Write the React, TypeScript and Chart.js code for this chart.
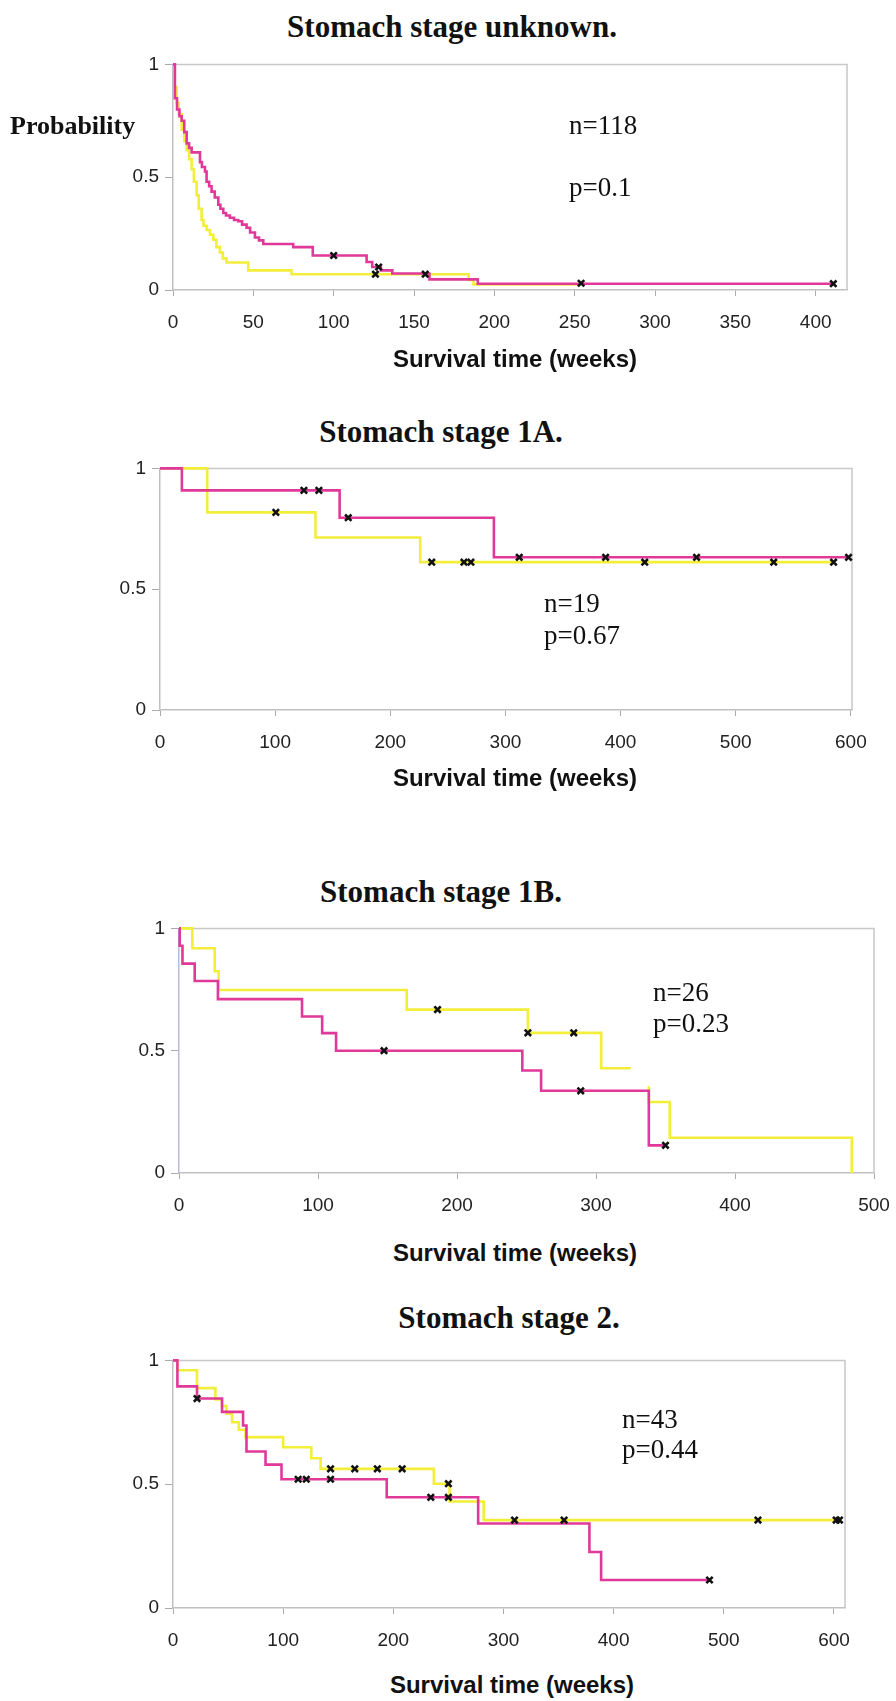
import React, { useEffect, useRef } from 'react';
import { Chart, registerables } from 'chart.js';

Chart.register(...registerables);

const PINK = '#E0399A';
const YELLOW = '#F2EE3A';

// ---------- Panel 1: Stomach stage unknown ----------
const p1PinkT = [0, 1.2, 2.5, 4, 5.4, 7, 8.5, 10, 11.6, 16.8, 18, 19.9, 20.9, 22.5, 24, 26, 28.2, 29.5, 31.3, 33, 35.4, 38, 40.6, 43, 45.8, 48, 51, 53.5, 56.2, 74.8, 87, 120.5, 124, 129.4, 136.5, 159.6, 189.7, 411];
const p1PinkS = [1, 0.85, 0.8, 0.77, 0.75, 0.7, 0.65, 0.63, 0.61, 0.567, 0.545, 0.525, 0.48, 0.46, 0.436, 0.41, 0.378, 0.36, 0.341, 0.33, 0.32, 0.31, 0.305, 0.29, 0.276, 0.255, 0.233, 0.22, 0.204, 0.19, 0.153, 0.124, 0.102, 0.087, 0.073, 0.047, 0.028, 0.028];
const p1PinkCensT = [100, 128, 411];
const p1PinkCensS = [0.153, 0.102, 0.028];
const p1YelT = [0, 1, 2.3, 3.5, 5.4, 7, 8.5, 10, 11.6, 13, 14.7, 16, 17.8, 19, 20.9, 23, 25.1, 27, 29.2, 31, 33.3, 46.8, 73.8, 184, 187, 254];
const p1YelS = [1, 0.9, 0.83, 0.78, 0.71, 0.66, 0.62, 0.58, 0.535, 0.48, 0.42, 0.36, 0.31, 0.285, 0.266, 0.245, 0.223, 0.19, 0.166, 0.14, 0.122, 0.087, 0.07, 0.045, 0.025, 0.025];
const p1YelCensT = [126, 157, 254];
const p1YelCensS = [0.07, 0.07, 0.03];

// ---------- Panel 2: Stomach stage 1A ----------
const p2PinkT = [0, 19, 156, 290, 599];
const p2PinkS = [1, 0.909, 0.796, 0.632, 0.632];
const p2PinkCensT = [125, 138, 163.5, 312, 387, 466, 598];
const p2PinkCensS = [0.909, 0.909, 0.796, 0.632, 0.632, 0.632, 0.632];
const p2YelT = [0, 41, 135, 226, 586];
const p2YelS = [1, 0.818, 0.714, 0.612, 0.612];
const p2YelCensT = [100.6, 236, 264, 270, 421, 533, 585];
const p2YelCensS = [0.818, 0.612, 0.612, 0.612, 0.612, 0.612, 0.612];

// ---------- Panel 3: Stomach stage 1B ----------
const p3PinkT = [0, 0.5, 2.5, 11.3, 28, 88.5, 103, 113, 247, 260.5, 338, 350];
const p3PinkS = [1, 0.929, 0.856, 0.785, 0.711, 0.64, 0.572, 0.5, 0.419, 0.336, 0.113, 0.113];
const p3PinkCensT = [147.5, 289, 350];
const p3PinkCensS = [0.5, 0.336, 0.113];
const p3YelT = [0, 9.6, 25.7, 28.5, 163.8, 251, 303.7, 325, 331, 338, 338, 353, 484];
const p3YelS = [1, 0.919, 0.825, 0.748, 0.668, 0.573, 0.428, 0.428, null, 0.355, 0.29, 0.144, 0];
const p3YelCensT = [186, 251, 284];
const p3YelCensS = [0.668, 0.573, 0.573];

// ---------- Panel 4: Stomach stage 2 ----------
const p4PinkT = [0, 4, 21.8, 44.5, 63.6, 66.7, 84, 98.5, 194, 277, 378, 388.6, 487];
const p4PinkS = [1, 0.895, 0.846, 0.792, 0.737, 0.632, 0.579, 0.52, 0.447, 0.341, 0.226, 0.113, 0.113];
const p4PinkCensT = [21.8, 113.6, 121, 143, 234, 250, 487];
const p4PinkCensS = [0.846, 0.52, 0.52, 0.52, 0.447, 0.447, 0.113];
const p4YelT = [0, 4, 21.8, 38.5, 44.5, 48.5, 53.6, 59.7, 65.8, 100, 125.5, 134, 236.8, 251, 282, 604];
const p4YelS = [1, 0.96, 0.888, 0.842, 0.816, 0.785, 0.75, 0.72, 0.69, 0.649, 0.605, 0.562, 0.502, 0.43, 0.355, 0.355];
const p4YelCensT = [143, 165, 185.5, 208, 250, 310, 355, 531, 602, 605];
const p4YelCensS = [0.562, 0.562, 0.562, 0.562, 0.502, 0.355, 0.355, 0.355, 0.355, 0.355];

const yTickValues = [0, 0.5, 1];
const xTicks1 = [0, 50, 100, 150, 200, 250, 300, 350, 400];
const xTicks2 = [0, 100, 200, 300, 400, 500, 600];
const xTicks3 = [0, 100, 200, 300, 400, 500];
const xTicks4 = [0, 100, 200, 300, 400, 500, 600];

const pts = (t: number[], s: (number | null)[]) => t.map((x, i) => ({ x, y: s[i] }));

type PanelDef = {
  pinkT: number[]; pinkS: number[]; pinkCT: number[]; pinkCS: number[];
  yelT: number[]; yelS: (number | null)[]; yelCT: number[]; yelCS: number[];
  xMax: number; xTicks: number[];
  left: number; right: number; top: number; bottom: number;
  yAxisColor?: string;
};

const panels: PanelDef[] = [
  { pinkT: p1PinkT, pinkS: p1PinkS, pinkCT: p1PinkCensT, pinkCS: p1PinkCensS, yelT: p1YelT, yelS: p1YelS, yelCT: p1YelCensT, yelCS: p1YelCensS, xMax: 419.5, xTicks: xTicks1, left: 173, right: 847, top: 61, bottom: 290 },
  { pinkT: p2PinkT, pinkS: p2PinkS, pinkCT: p2PinkCensT, pinkCS: p2PinkCensS, yelT: p2YelT, yelS: p2YelS, yelCT: p2YelCensT, yelCS: p2YelCensS, xMax: 601, xTicks: xTicks2, left: 160, right: 852, top: 465, bottom: 710 },
  { pinkT: p3PinkT, pinkS: p3PinkS, pinkCT: p3PinkCensT, pinkCS: p3PinkCensS, yelT: p3YelT, yelS: p3YelS, yelCT: p3YelCensT, yelCS: p3YelCensS, xMax: 500, xTicks: xTicks3, left: 179, right: 874, top: 925, bottom: 1173, yAxisColor: '#b9b9dc' },
  { pinkT: p4PinkT, pinkS: p4PinkS, pinkCT: p4PinkCensT, pinkCS: p4PinkCensS, yelT: p4YelT, yelS: p4YelS, yelCT: p4YelCensT, yelCS: p4YelCensS, xMax: 610, xTicks: xTicks4, left: 173, right: 845, top: 1357, bottom: 1608 },
];

const AXW = 70; // y axis box width
const AXH = 60; // x axis box height
const PADT = 14;
const PADR = 34;

const framePlugin = {
  id: 'frame',
  beforeDatasetsDraw(chart: any) {
    const { ctx, chartArea } = chart;
    const { left, top, right, bottom } = chartArea;
    ctx.save();
    ctx.strokeStyle = '#c8c8c8';
    ctx.lineWidth = 1.5;
    ctx.beginPath();
    ctx.moveTo(left, top);
    ctx.lineTo(right, top);
    ctx.lineTo(right, bottom);
    ctx.stroke();
    ctx.restore();
  },
};

function KMChart({ p }: { p: PanelDef }) {
  const ref = useRef<HTMLCanvasElement>(null);
  const w = p.right - p.left + AXW + PADR;
  const h = p.bottom - p.top + PADT + AXH;
  useEffect(() => {
    if (!ref.current) return;
    const tickFont = { family: '"Liberation Sans", Arial, sans-serif', size: 19 };
    const chart = new Chart(ref.current, {
      type: 'scatter',
      data: {
        datasets: [
          { data: pts(p.pinkCT, p.pinkCS), showLine: false, pointStyle: 'crossRot', pointRadius: 4.5, pointBorderWidth: 2.6, borderColor: '#111', backgroundColor: '#111', clip: false } as any,
          { data: pts(p.yelCT, p.yelCS), showLine: false, pointStyle: 'crossRot', pointRadius: 4.5, pointBorderWidth: 2.6, borderColor: '#111', backgroundColor: '#111', clip: false } as any,
          { data: pts(p.pinkT, p.pinkS), showLine: true, stepped: true, pointRadius: 0, borderColor: PINK, borderWidth: 2.6, clip: false } as any,
          { data: pts(p.yelT, p.yelS), showLine: true, stepped: true, spanGaps: false, pointRadius: 0, borderColor: YELLOW, borderWidth: 2.6, clip: false } as any,
        ],
      },
      options: {
        responsive: false,
        animation: false,
        devicePixelRatio: 1,
        layout: { padding: { top: PADT, right: PADR, left: 0, bottom: 0 } },
        plugins: { legend: { display: false }, tooltip: { enabled: false } },
        scales: {
          x: {
            type: 'linear',
            min: 0,
            max: p.xMax,
            afterBuildTicks: (scale: any) => {
              scale.ticks = p.xTicks.map((v) => ({ value: v }));
            },
            afterFit: (scale: any) => { scale.height = AXH; },
            ticks: { font: tickFont, color: '#222', padding: 15, maxRotation: 0, autoSkip: false, callback: (v: any) => String(v) },
            grid: { drawOnChartArea: false, drawTicks: true, tickLength: 6, color: '#aaa' },
            border: { display: true, color: '#c0c0c0', width: 1.5 },
          },
          y: {
            type: 'linear',
            min: 0,
            max: 1,
            afterBuildTicks: (scale: any) => {
              scale.ticks = yTickValues.map((v) => ({ value: v }));
            },
            afterFit: (scale: any) => { scale.width = AXW; },
            ticks: { font: tickFont, color: '#222', padding: 6, callback: (v: any) => String(v) },
            grid: { drawOnChartArea: false, drawTicks: true, tickLength: 8, color: '#aaa' },
            border: { display: true, color: p.yAxisColor || '#c0c0c0', width: 1.5 },
          },
        },
      },
      plugins: [framePlugin],
    } as any);
    return () => chart.destroy();
  }, []);
  return (
    <canvas
      ref={ref}
      width={w}
      height={h}
      style={{ position: 'absolute', left: p.left - AXW, top: p.top - PADT, width: w, height: h }}
    />
  );
}

type TextDef = { text: string; x: number; base: number; size: number; bold?: boolean; sans?: boolean; center?: boolean };

const titles = ['Stomach stage unknown.', 'Stomach stage 1A.', 'Stomach stage 1B.', 'Stomach stage 2.'];
const annotN = ['n=118', 'n=19', 'n=26', 'n=43'];
const annotP = ['p=0.1', 'p=0.67', 'p=0.23', 'p=0.44'];
const xAxisTitle = 'Survival time (weeks)';
const yAxisTitle = 'Probability';

const texts: TextDef[] = [
  { text: titles[0], x: 452, base: 37, size: 31, bold: true, center: true },
  { text: titles[1], x: 441, base: 442, size: 31, bold: true, center: true },
  { text: titles[2], x: 441, base: 902, size: 31, bold: true, center: true },
  { text: titles[3], x: 509, base: 1328, size: 31, bold: true, center: true },
  { text: yAxisTitle, x: 10, base: 135, size: 26, bold: true },
  { text: annotN[0], x: 569, base: 135, size: 27 },
  { text: annotP[0], x: 569, base: 197, size: 27 },
  { text: annotN[1], x: 544, base: 613, size: 27 },
  { text: annotP[1], x: 544, base: 645, size: 27 },
  { text: annotN[2], x: 653, base: 1002, size: 27 },
  { text: annotP[2], x: 653, base: 1033, size: 27 },
  { text: annotN[3], x: 622, base: 1429, size: 27 },
  { text: annotP[3], x: 622, base: 1459, size: 27 },
  { text: xAxisTitle, x: 515, base: 367, size: 24, bold: true, sans: true, center: true },
  { text: xAxisTitle, x: 515, base: 786, size: 24, bold: true, sans: true, center: true },
  { text: xAxisTitle, x: 515, base: 1261, size: 24, bold: true, sans: true, center: true },
  { text: xAxisTitle, x: 512, base: 1693, size: 24, bold: true, sans: true, center: true },
];

export default function App() {
  return (
    <div style={{ position: 'absolute', left: 0, top: 0, width: 896, height: 1701, background: '#fff', overflow: 'hidden' }}>
      {panels.map((p, i) => <KMChart key={i} p={p} />)}
      {texts.map((t, i) => {
        const asc = t.sans ? 0.8465 : 0.8375;
        const style: React.CSSProperties = {
          position: 'absolute',
          top: t.base - asc * t.size,
          left: t.x,
          fontSize: t.size,
          lineHeight: 1,
          fontWeight: t.bold ? 700 : 400,
          fontFamily: t.sans ? '"Liberation Sans", Arial, sans-serif' : '"Liberation Serif", "Times New Roman", serif',
          color: '#111',
          whiteSpace: 'nowrap',
          transform: t.center ? 'translateX(-50%)' : undefined,
        };
        return <div key={i} style={style}>{t.text}</div>;
      })}
    </div>
  );
}
